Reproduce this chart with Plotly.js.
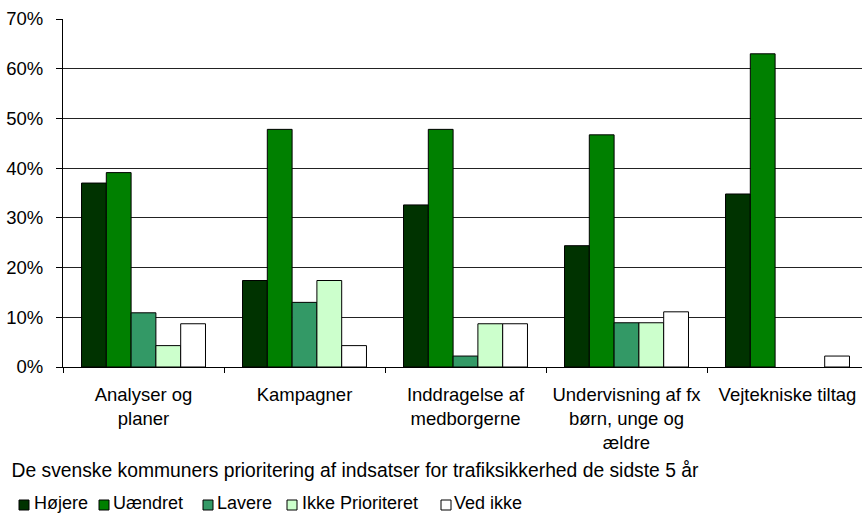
<!DOCTYPE html>
<html>
<head>
<meta charset="utf-8">
<script src="https://cdn.plot.ly/plotly-3.0.1.min.js"></script>
<style>html,body{margin:0;padding:0;background:#fff}#chart{width:862px;height:515px}</style>
</head>
<body>
<div id="chart"></div>
<script>
const categories = ["Analyser og<br>planer", "Kampagner", "Inddragelse af<br>medborgerne", "Undervisning af fx<br>børn, unge og<br>ældre", "Vejtekniske tiltag"];
const seriesNames = ["Højere", "Uændret", "Lavere", "Ikke Prioriteret", "Ved ikke"];
const hojere = [37.0, 17.4, 32.6, 24.4, 34.8];
const uaendret = [39.1, 47.8, 47.8, 46.7, 63.0];
const lavere = [10.9, 13.0, 2.2, 8.9, 0];
const ikkePrioriteret = [4.3, 17.4, 8.7, 8.9, 0];
const vedIkke = [8.7, 4.3, 8.7, 11.1, 2.2];
const colors = ["#003300", "#008000", "#339966", "#CCFFCC", "#FFFFFF"];
const yTicks = [0, 10, 20, 30, 40, 50, 60, 70];

// plot area geometry (pixels)
const W = 862, H = 515;
const M = {l: 63, r: 0, t: 19, b: 148};
const plotW = W - M.l - M.r, plotH = H - M.t - M.b;
const px2x = px => (px - M.l) / plotW;
const py2y = py => (H - M.b - py) / plotH;

const seriesValues = [hojere, uaendret, lavere, ikkePrioriteret, vedIkke];
const traces = seriesValues.map((vals, i) => ({
  type: "bar",
  name: seriesNames[i],
  x: categories,
  y: vals,
  marker: {color: colors[i], line: {color: "#000", width: vals.map(v => v > 0 ? 1 : 0)}},
  hoverinfo: "skip",
  showlegend: false
}));

// custom compact legend (swatch + label), as in the reference
const legendSwatchX = [19, 99, 203, 287, 441];
const legendTextX = [34, 113, 217, 302, 454];
const swatchY = 505, textY = 503, sw = 10;
const shapes = seriesNames.map((n, i) => ({
  type: "rect", xref: "paper", yref: "paper", layer: "above",
  x0: px2x(legendSwatchX[i]), x1: px2x(legendSwatchX[i] + sw),
  y0: py2y(swatchY - sw / 2), y1: py2y(swatchY + sw / 2),
  fillcolor: colors[i], line: {color: "#000", width: 1}
}));
const fontFam = "Liberation Sans, Arial, sans-serif";
const annotations = seriesNames.map((n, i) => ({
  text: n, xref: "paper", yref: "paper", showarrow: false,
  x: px2x(legendTextX[i] - 1), xanchor: "left",
  y: py2y(textY), yanchor: "middle", borderpad: 0,
  font: {family: fontFam, size: 18, color: "#000"}
}));

const layout = {
  width: W, height: H,
  margin: M,
  paper_bgcolor: "#fff", plot_bgcolor: "#fff",
  font: {family: fontFam, size: 18, color: "#000"},
  barmode: "group",
  bargap: 0.23,
  bargroupgap: 0,
  showlegend: false,
  shapes: shapes,
  annotations: annotations,
  title: {
    text: "De svenske kommuners prioritering af indsatser for trafiksikkerhed de sidste 5 år",
    font: {family: fontFam, size: 19.3, color: "#000"},
    xref: "container", yref: "container",
    x: 11.5 / W, xanchor: "left",
    y: (H - 470) / H, yanchor: "middle"
  },
  xaxis: {
    type: "category",
    range: [-0.5, 4.5 - 6 / 161],
    showline: true, linecolor: "#000", linewidth: 1,
    ticks: "outside", tickson: "boundaries", ticklen: 5, tickcolor: "#000",
    showgrid: false,
    ticklabelstandoff: 11,
    tickfont: {family: fontFam, size: 18.5, color: "#000"},
    tickangle: 0
  },
  yaxis: {
    range: [0, 70],
    tickvals: yTicks,
    ticktext: yTicks.map(v => v + "%"),
    showline: true, linecolor: "#000", linewidth: 1,
    ticks: "outside", ticklen: 6, tickcolor: "#000",
    showgrid: true, gridcolor: "#222", gridwidth: 1,
    zeroline: false,
    ticklabelstandoff: 9,
    tickfont: {family: fontFam, size: 18.5, color: "#000"}
  }
};

Plotly.newPlot("chart", traces, layout, {displayModeBar: false, staticPlot: true});
</script>
</body>
</html>
